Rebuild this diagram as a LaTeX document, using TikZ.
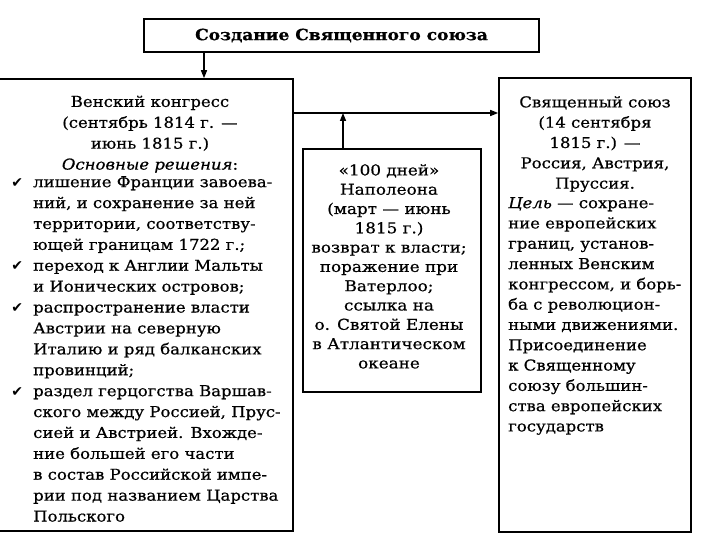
\documentclass[tikz,border=0pt]{standalone}
\usepackage{fontspec}
\setmainfont[FakeStretch=1.1,FakeBold=0.6]{DejaVu Serif}
\newfontfamily\midfont[FakeStretch=1.12,FakeBold=0.6]{DejaVu Serif}
\newfontfamily\chk{DejaVu Sans}
\usetikzlibrary{arrows.meta}
\begin{document}
\begin{tikzpicture}[x=1pt,y=-1pt,
  box/.style={draw, line width=1.6pt, inner sep=0pt},
  conn/.style={line width=1.4pt, -{Triangle[length=8pt,width=6pt]}},
  txtL/.style={inner sep=0pt, font=\fontsize{15}{20.9}\selectfont},
  txtR/.style={inner sep=0pt, font=\fontsize{15}{20.3}\selectfont},
  txtM/.style={inner sep=0pt, font=\midfont\fontsize{15}{19.3}\selectfont}]
\newcommand\tick{\llap{{\chk\fontsize{14}{14}\selectfont ✔}\hspace{10pt}}}
\useasboundingbox (0,0) rectangle (720,540);
% boxes
\node[box, line width=1.9pt, minimum width=395pt, minimum height=33pt,
      font=\bfseries\fontsize{15.5}{18}\selectfont] (title) at (341.5,35.5) {Создание Священного союза};
\node[box, minimum width=300pt, minimum height=452pt] (left) at (143,305) {};
\node[box, minimum width=178pt, minimum height=243pt] (mid) at (392,270.5) {};
\node[box, minimum width=192pt, minimum height=454pt] (right) at (595,305) {};
% helper coordinates
\coordinate (ax) at (204,0);
\coordinate (hy) at (0,113);
\coordinate (mx) at (343,0);
% connectors
\draw[conn] (ax |- title.south) -- (ax |- left.north);
\draw[conn] (left.east |- hy) -- (right.west |- hy);
\draw[conn] (mx |- mid.north) -- (mx |- hy);
% left texts
\node[txtL, align=center, anchor=north] (lhead) at (150,95.5)
  {Венский конгресс\\(сентябрь 1814 г. —\\июнь 1815 г.)\\\textit{Основные решения}:};
\node[txtL, align=left, anchor=north west] (llist) at (33,176)
  {\tick лишение Франции завоева-\\
   ний, и сохранение за ней\\
   территории, соответству-\\
   ющей границам 1722 г.;\\
   \tick переход к Англии Мальты\\
   и Ионических островов;\\
   \tick распространение власти\\
   Австрии на северную\\
   Италию и ряд балканских\\
   провинций;\\
   \tick раздел герцогства Варшав-\\
   ского между Россией, Прус-\\
   сией и Австрией. Вхожде-\\
   ние большей его части\\
   в состав Российской импе-\\
   рии под названием Царства\\
   Польского};
% middle text
\node[txtM, align=center, anchor=north] (mtext) at (389,164)
  {«100 дней»\\Наполеона\\(март — июнь\\1815 г.)\\возврат к власти;\\поражение при\\Ватерлоо;\\ссылка на\\о. Святой Елены\\в Атлантическом\\океане};
% right texts
\node[txtR, align=center, anchor=north] (rhead) at (595,96)
  {Священный союз\\(14 сентября\\1815 г.) —\\Россия, Австрия,\\Пруссия.};
\node[txtR, align=left, anchor=north west] (rlist) at (508,197)
  {\textit{Цель} — сохране-\\
   ние европейских\\
   границ, установ-\\
   ленных Венским\\
   конгрессом, и борь-\\
   ба с революцион-\\
   ными движениями.\\
   Присоединение\\
   к Священному\\
   союзу большин-\\
   ства европейских\\
   государств};
\end{tikzpicture}
\end{document}
